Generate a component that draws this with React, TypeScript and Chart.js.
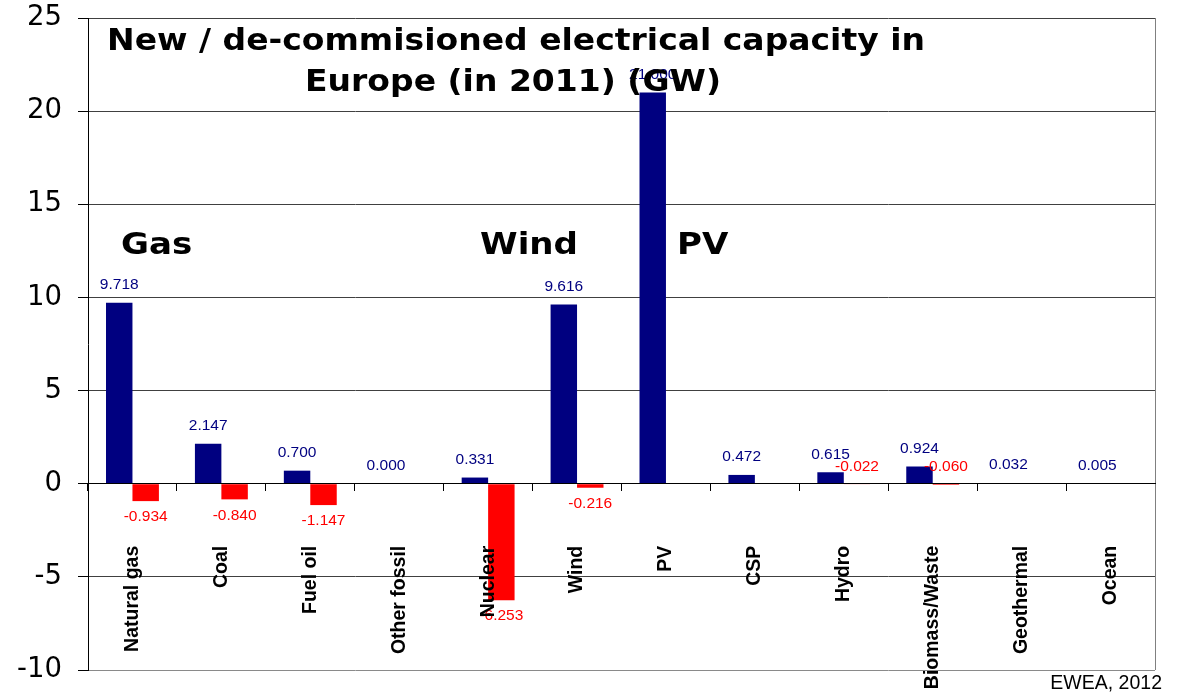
import React, { useEffect, useRef } from "react";
import { Chart, registerables } from "chart.js";

Chart.register(...registerables);

// Technology categories along the x axis
const categories = [
  "Natural gas",
  "Coal",
  "Fuel oil",
  "Other fossil",
  "Nuclear",
  "Wind",
  "PV",
  "CSP",
  "Hydro",
  "Biomass/Waste",
  "Geothermal",
  "Ocean",
];

// Newly installed capacity in 2011 (GW)
const newCapacity = [9.718, 2.147, 0.7, 0.0, 0.331, 9.616, 21.0, 0.472, 0.615, 0.924, 0.032, 0.005];

// De-commissioned capacity in 2011 (GW, negative)
const decommissioned = [-0.934, -0.84, -1.147, null, -6.253, -0.216, null, null, -0.022, -0.06, null, null];

// Value axis range and step
const yMin = -10;
const yMax = 25;
const yStep = 5;

const titleLines = ["New / de-commisioned electrical capacity in", "Europe (in 2011) (GW)"];
const highlightWords = ["Gas", "Wind", "PV"];
const sourceNote = "EWEA, 2012";

const W = 1177;
const H = 693;

const BLUE = "#000080";
const RED = "#ff0000";

const valueLabelPlugin = {
  id: "valueLabels",
  afterDatasetsDraw(chart: any) {
    const { ctx } = chart;
    const zero = chart.scales.y.getPixelForValue(0);
    ctx.save();
    ctx.font = "15.5px 'Liberation Sans', Arial, sans-serif";
    ctx.textAlign = "center";
    ctx.textBaseline = "middle";
    chart.data.datasets.forEach((ds: any, di: number) => {
      const meta = chart.getDatasetMeta(di);
      meta.data.forEach((bar: any, i: number) => {
        const v = ds.data[i];
        if (v === null || v === undefined) return;
        let y: number;
        if (v >= 0) y = bar.y - 18;
        else if (v > -0.1) y = zero - 17;
        else y = bar.y + 16;
        ctx.fillStyle = di === 0 ? BLUE : RED;
        ctx.fillText(v.toFixed(3), bar.x, y);
      });
    });
    ctx.restore();
  },
};

const framePlugin = {
  id: "frame",
  beforeDatasetsDraw(chart: any) {
    const { ctx, chartArea } = chart;
    ctx.save();
    ctx.strokeStyle = "#808080";
    ctx.lineWidth = 1;
    const x = Math.round(chartArea.right) + 0.5;
    ctx.beginPath();
    ctx.moveTo(x, chartArea.top);
    ctx.lineTo(x, chartArea.bottom);
    ctx.stroke();
    ctx.restore();
  },
};

// Wide bold lettering used for the heading and the highlight words
function drawWide(ctx: CanvasRenderingContext2D, text: string, x: number, y: number, size: number, align: CanvasTextAlign) {
  ctx.save();
  ctx.translate(x, y);
  ctx.scale(1.1, 1);
  ctx.font = `bold ${size}px 'DejaVu Sans', Verdana, sans-serif`;
  ctx.textAlign = align;
  ctx.textBaseline = "alphabetic";
  ctx.fillStyle = "#000";
  ctx.fillText(text, 0, 0);
  ctx.restore();
}

const textPlugin = {
  id: "annotations",
  afterDraw(chart: any) {
    const { ctx } = chart;
    drawWide(ctx, titleLines[0], 516, 50, 30, "center");
    drawWide(ctx, titleLines[1], 513, 91, 30, "center");
    drawWide(ctx, highlightWords[0], 121, 254, 31, "left");
    drawWide(ctx, highlightWords[1], 578, 254, 31, "right");
    drawWide(ctx, highlightWords[2], 677, 254, 31, "left");

    ctx.save();
    ctx.font = "19.5px 'Liberation Sans', Arial, sans-serif";
    ctx.textAlign = "right";
    ctx.textBaseline = "alphabetic";
    ctx.fillStyle = "#000";
    ctx.fillText(sourceNote, 1162, 689);
    ctx.restore();
  },
};

// Let the layout padding alone decide where the plot area sits
function clearScalePadding(scale: any) {
  scale.paddingTop = 0;
  scale.paddingBottom = 0;
  scale.paddingLeft = 0;
  scale.paddingRight = 0;
}

export default function App() {
  const canvasRef = useRef<HTMLCanvasElement | null>(null);

  useEffect(() => {
    const canvas = canvasRef.current;
    if (!canvas) return;
    const chart = new Chart(canvas, {
      type: "bar",
      data: {
        labels: categories,
        datasets: [
          {
            label: "New",
            data: newCapacity,
            backgroundColor: BLUE,
            categoryPercentage: 0.595,
            barPercentage: 1.0,
          },
          {
            label: "De-commissioned",
            data: decommissioned as any,
            backgroundColor: RED,
            categoryPercentage: 0.595,
            barPercentage: 1.0,
          },
        ],
      },
      options: {
        responsive: false,
        animation: false,
        devicePixelRatio: 1,
        layout: { padding: { left: 0, right: 22, top: 18, bottom: 23 } },
        plugins: {
          legend: { display: false },
          title: { display: false },
          tooltip: { enabled: false },
        },
        scales: {
          x: {
            position: { y: 0 } as any,
            offset: true,
            afterFit: clearScalePadding,
            grid: {
              display: true,
              offset: true,
              drawOnChartArea: false,
              drawTicks: true,
              tickLength: 7,
              color: "#000",
              tickColor: "#000",
            },
            border: { display: true, color: "#000", width: 1, z: 1 },
            ticks: {
              autoSkip: false,
              minRotation: 90,
              maxRotation: 90,
              padding: 55,
              color: "#000",
              z: 1,
              font: { family: "'Liberation Sans', Arial, sans-serif", size: 19.5, weight: "bold" },
            },
          },
          y: {
            min: yMin,
            max: yMax,
            afterFit(scale: any) {
              scale.width = 88;
              clearScalePadding(scale);
            },
            grid: {
              color: (c: any) => (c.tick && c.tick.value === yMin ? "#8a8a8a" : "#404040"),
              tickColor: "#000",
              tickLength: 10,
              lineWidth: 1,
            },
            border: { display: true, color: "#000", width: 1 },
            ticks: {
              stepSize: yStep,
              padding: 16,
              color: "#000",
              font: { family: "'DejaVu Sans', Verdana, sans-serif", size: 27.5 },
            },
          },
        },
      },
      plugins: [framePlugin, valueLabelPlugin, textPlugin],
    });
    return () => chart.destroy();
  }, []);

  return (
    <div style={{ position: "fixed", left: 0, top: 0, width: W, height: H, background: "#fff" }}>
      <canvas ref={canvasRef} width={W} height={H} style={{ display: "block", width: W, height: H }} />
    </div>
  );
}
